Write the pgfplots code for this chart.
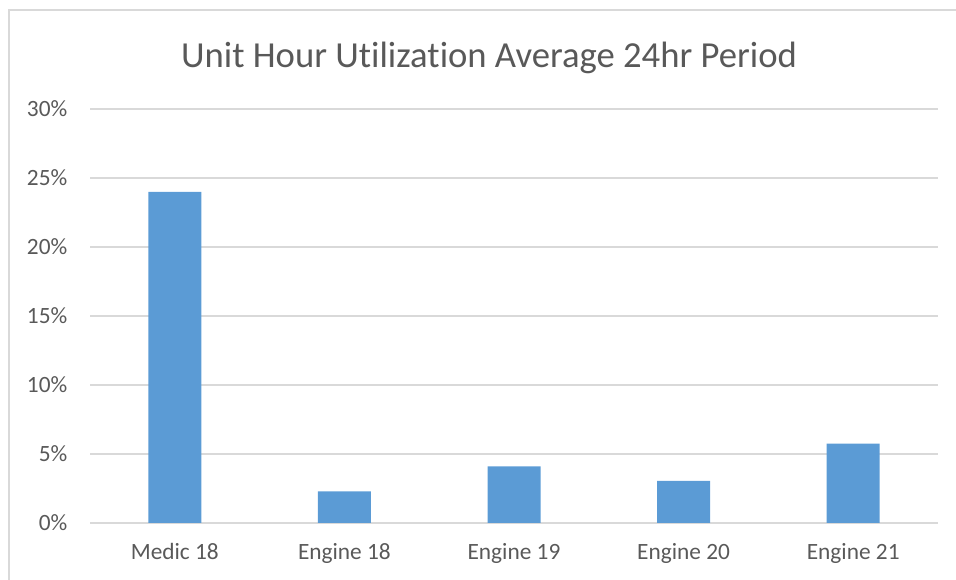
\documentclass[border=0pt]{standalone}
\usepackage{pgfplots}
\pgfplotsset{compat=1.18}
\usepackage{fontspec}
\setmainfont{Carlito}[Ligatures={NoCommon}]
\definecolor{barblue}{RGB}{91,155,213}
\definecolor{gridgray}{RGB}{217,217,217}
\definecolor{txtgray}{RGB}{89,89,89}
\begin{document}
\begin{tikzpicture}
\path[use as bounding box] (0pt,0pt) rectangle (717pt,435pt);
\draw[gridgray, line width=1.2pt] (6.75pt,0pt) -- (6.75pt,427.5pt) -- (717pt,427.5pt);
\node[txtgray, font=\fontsize{27.5}{32}\selectfont] at (366.75pt,391.5pt) {Unit Hour Utilization Average 24hr Period};
\begin{axis}[
  at={(67.5pt,42.75pt)}, anchor=south west,
  scale only axis,
  width=636pt, height=310.5pt,
  xmin=-0.5, xmax=4.5,
  ymin=0, ymax=30,
  ytick={0,5,...,30},
  yticklabel={\pgfmathprintnumber{\tick}\%},
  xtick={0,1,2,3,4},
  xticklabels={Medic 18, Engine 18, Engine 19, Engine 20, Engine 21},
  axis line style={draw=none},
  major tick length=0pt,
  ymajorgrids,
  grid style={gridgray, line width=1pt},
  ticklabel style={txtgray, font=\fontsize{17.5}{20}\selectfont},
  /pgf/number format/assume math mode=true,
  yticklabel style={xshift=-13.5pt},
  xticklabel style={yshift=-11.5pt},
  clip=false,
]
\addplot[ybar, bar width=39.75pt, fill=barblue, draw=none] coordinates {
  (0,24.0) (1,2.3) (2,4.1) (3,3.05) (4,5.75)
};
\end{axis}
\end{tikzpicture}
\end{document}
